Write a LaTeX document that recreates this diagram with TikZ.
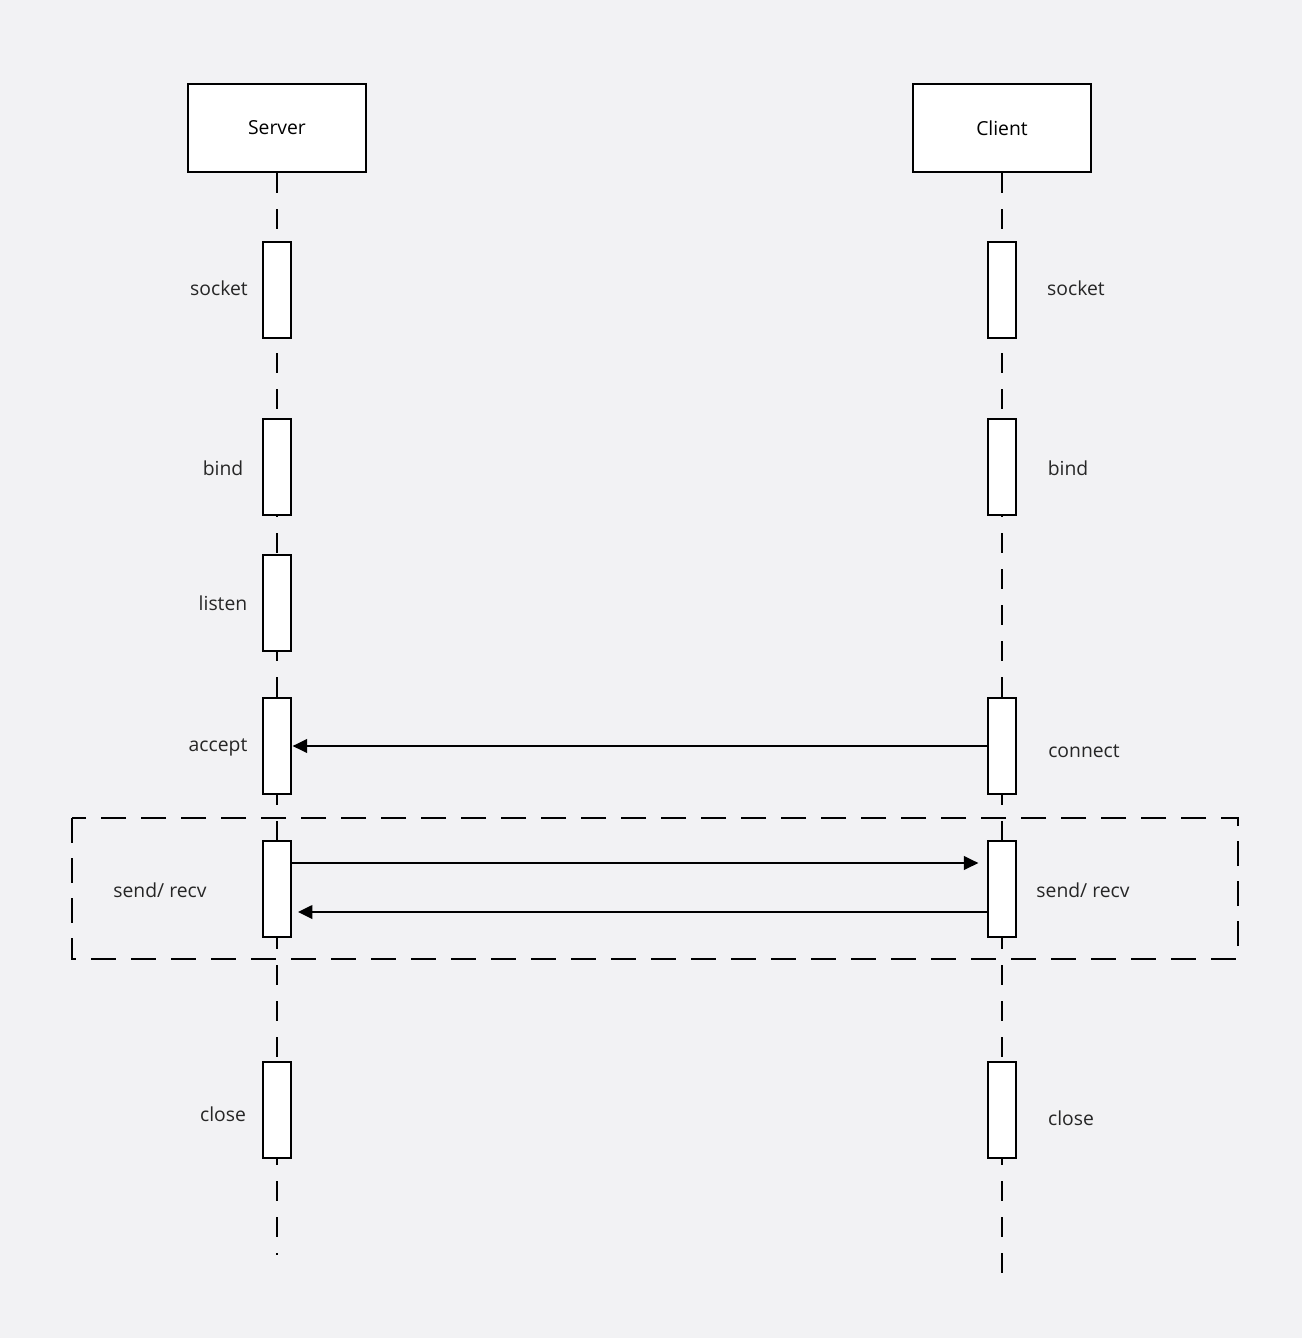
\documentclass[tikz,border=0pt]{standalone}
\usepackage{fontspec}
\setmainfont{Open Sans}
\usetikzlibrary{arrows.meta}
\begin{document}
\begin{tikzpicture}[x=0.75pt,y=-0.75pt,
  head/.style={draw,line width=2.2pt,fill=white,minimum width=133.5pt,minimum height=66pt,inner sep=0pt,font=\fontsize{14.5}{16}\selectfont},
  act/.style={draw,line width=2.2pt,fill=white,minimum width=21pt,minimum height=72pt,inner sep=0pt},
  lab/.style={font=\fontsize{14.5}{16}\selectfont,text=black!85},
  life/.style={line width=2.2pt,dash pattern=on 15pt off 12pt},
  msg/.style={line width=2.2pt,-{Triangle[length=11pt,width=10pt]}}]
\fill[fill={rgb,255:red,242;green,242;blue,244}] (0,0) rectangle (1302,1338);
\useasboundingbox (0,0) rectangle (1302,1338);
\node[head] (S) at (277,128) {Server};
\node[head] (C) at (1002,128) {Client};
\coordinate (Send) at (277,1255);
\coordinate (Cend) at (1002,1285);
\draw[life] (S.south) -- (Send);
\draw[life] (C.south) -- (Cend);
\foreach \n/\y in {socket/290,bind/467,listen/603,accept/746,send/889,close/1110}
  \node[act] (s\n) at (277,\y) {};
\foreach \n/\y in {socket/290,bind/467,connect/746,send/889,close/1110}
  \node[act] (c\n) at (1002,\y) {};
\node[lab] (l1) at (219,288) {socket};
\node[lab] (l2) at (223,468) {bind};
\node[lab] (l3) at (223,603) {listen};
\node[lab] (l4) at (218,747) {accept};
\node[lab] (l5) at (160,890) {send/ recv};
\node[lab] (l6) at (223,1114) {close};
\node[lab] (r1) at (1076,288) {socket};
\node[lab] (r2) at (1068,468) {bind};
\node[lab] (r3) at (1084,751) {connect};
\node[lab] (r4) at (1083,890) {send/ recv};
\node[lab] (r5) at (1071,1118) {close};
\coordinate (y1) at (0,746);
\coordinate (y2) at (0,863);
\coordinate (y3) at (0,912);
\draw[msg] (cconnect.west |- y1) -- (saccept.east |- y1);
\draw[msg] (ssend.east |- y2) -- ([xshift=-6pt]csend.west |- y2);
\draw[msg] (csend.west |- y3) -- ([xshift=4pt]ssend.east |- y3);
\draw[line width=2.2pt,dash pattern=on 19pt off 11pt] (72,818) rectangle (1238,959);
\end{tikzpicture}
\end{document}
